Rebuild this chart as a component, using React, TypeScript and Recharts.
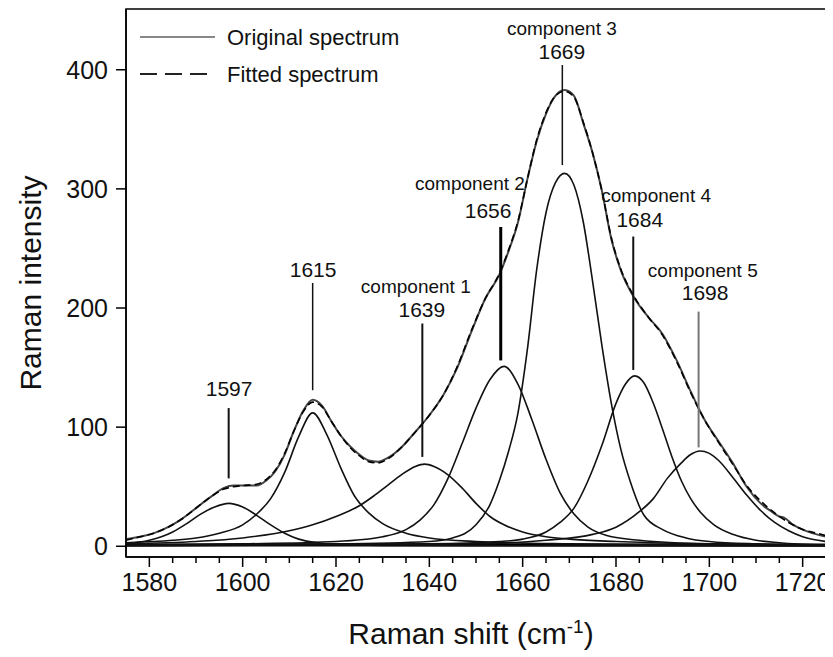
import React from 'react';
import { LineChart, Line, XAxis, YAxis, ReferenceLine, ReferenceDot, ReferenceArea, Legend, Label } from 'recharts';

const FONT = '"Liberation Sans", Arial, sans-serif';

// axis ticks
const xMajorTicks = [1580, 1600, 1620, 1640, 1660, 1680, 1700, 1720];
const xAllTicks = [1580, 1585, 1590, 1595, 1600, 1605, 1610, 1615, 1620, 1625, 1630, 1635, 1640, 1645, 1650, 1655, 1660, 1665, 1670, 1675, 1680, 1685, 1690, 1695, 1700, 1705, 1710, 1715, 1720, 1725];
const yTicks = [0, 100, 200, 300, 400];

// spectra [Raman shift, intensity]
const originalSpectrum = [
  [1575, 6], [1578, 8], [1581, 11], [1584, 16], [1587, 23], [1590, 32], [1593, 41], [1596, 49], [1598, 51], [1600, 51],
  [1603, 51], [1605, 55], [1607, 63], [1609, 77], [1611, 97], [1613, 114], [1615, 123], [1617, 118], [1619, 105], [1621, 93],
  [1623, 84], [1625, 77], [1627, 72], [1629, 71], [1631, 74], [1634, 83], [1637, 96], [1640, 110], [1643, 127], [1646, 150],
  [1649, 180], [1652, 208], [1655, 228], [1657, 248], [1659, 272], [1661, 308], [1663, 340], [1665, 363], [1667, 378], [1669, 383],
  [1671, 378], [1673, 355], [1675, 330], [1677, 298], [1679, 258], [1681, 232], [1684, 208], [1687, 192], [1690, 178], [1693, 156],
  [1696, 130], [1699, 106], [1702, 88], [1705, 70], [1708, 50], [1711, 36], [1713, 30], [1715, 25], [1716, 24], [1718, 18],
  [1720, 14], [1723, 10], [1725, 8],
];
const fittedSpectrum = [
  [1575, 5], [1578, 8], [1581, 11], [1584, 16], [1587, 23], [1590, 32], [1593, 41], [1596, 48], [1598, 50], [1600, 51],
  [1603, 52], [1605, 56], [1607, 64], [1609, 78], [1611, 97], [1613, 113], [1615, 121], [1617, 117], [1619, 105], [1621, 93],
  [1623, 83], [1625, 76], [1627, 71], [1629, 70], [1631, 73], [1634, 83], [1637, 96], [1640, 110], [1643, 127], [1646, 151],
  [1649, 181], [1652, 208], [1655, 229], [1657, 249], [1659, 273], [1661, 308], [1663, 341], [1665, 364], [1667, 378], [1669, 382],
  [1671, 377], [1673, 356], [1675, 330], [1677, 298], [1679, 259], [1681, 233], [1684, 209], [1687, 192], [1690, 177], [1693, 155],
  [1696, 129], [1699, 106], [1702, 87], [1705, 69], [1708, 51], [1711, 38], [1714, 28], [1717, 20], [1720, 14], [1723, 11], [1725, 9],
];

// fitted components
const band1597 = [
  [1575, 2], [1580, 5], [1585, 12], [1588, 19], [1591, 27], [1594, 33], [1597, 36], [1600, 33], [1603, 26], [1606, 18],
  [1609, 11], [1612, 6], [1616, 3], [1620, 1.5], [1630, 0.8], [1650, 0.5], [1700, 0.3], [1725, 0.3],
];
const band1615 = [
  [1575, 3], [1585, 5], [1590, 7], [1595, 11], [1600, 18], [1603, 27], [1606, 40], [1609, 62], [1612, 92], [1615, 112],
  [1618, 94], [1621, 66], [1624, 42], [1627, 28], [1630, 19], [1635, 11], [1640, 7], [1650, 4], [1670, 2], [1700, 1], [1725, 0.5],
];
const component1 = [
  [1575, 2], [1590, 4], [1600, 7], [1610, 13], [1615, 18], [1620, 25], [1625, 34], [1628, 42], [1631, 51], [1634, 60],
  [1637, 67], [1639, 69], [1641, 67], [1644, 60], [1647, 49], [1650, 36], [1653, 25], [1656, 18], [1660, 12], [1665, 8],
  [1670, 6], [1680, 4], [1700, 2], [1725, 1],
];
const component2 = [
  [1575, 1], [1600, 2], [1620, 4], [1630, 8], [1635, 14], [1638, 22], [1641, 35], [1644, 57], [1647, 86], [1650, 116],
  [1653, 140], [1656, 151], [1659, 136], [1662, 106], [1665, 73], [1668, 45], [1671, 27], [1674, 16], [1678, 9], [1685, 5],
  [1700, 2], [1725, 1],
];
const component3 = [
  [1575, 1], [1620, 2], [1640, 4], [1645, 7], [1650, 18], [1653, 35], [1655, 55], [1657, 80], [1659, 112], [1661, 165],
  [1663, 232], [1665, 280], [1667, 305], [1669, 313], [1671, 303], [1673, 272], [1675, 222], [1677, 168], [1679, 120], [1681, 82],
  [1683, 55], [1686, 26], [1690, 14], [1695, 7], [1700, 4], [1710, 2], [1725, 1],
];
const component4 = [
  [1575, 0.5], [1640, 2], [1655, 4], [1660, 6], [1665, 12], [1668, 20], [1671, 32], [1674, 55], [1677, 85], [1680, 120],
  [1682, 136], [1684, 143], [1686, 137], [1688, 120], [1690, 98], [1692, 75], [1694, 55], [1696, 40], [1698, 29], [1701, 18],
  [1705, 10], [1710, 5], [1715, 3], [1725, 1],
];
const component5 = [
  [1575, 0.5], [1650, 2], [1665, 5], [1675, 10], [1680, 16], [1685, 29], [1688, 40], [1691, 57], [1694, 70], [1696, 77],
  [1698, 80], [1700, 78], [1702, 72], [1705, 58], [1708, 43], [1711, 30], [1714, 20], [1717, 13], [1720, 8], [1725, 4],
];
const baseline = [[1575, 1], [1725, 1]];

// annotations
const peakLineX = [1597, 1615, 1638.5, 1655.3, 1668.5, 1683.7, 1697.7];
const peakLineTop = [116, 221, 187, 268, 404, 260, 197];
const peakLineBottom = [57, 131, 75, 156, 320, 148, 83];
const peakLineColor = ['#111', '#111', '#111', '#000', '#111', '#111', '#777'];
const peakLineWidth = [2, 1.5, 2, 3, 1.5, 2, 2];
const peakLabels = ['1597', '1615', '1639', '1656', '1669', '1684', '1698'];
const peakLabelX = [1597.1, 1615.1, 1638.4, 1652.6, 1668.4, 1685.1, 1699.1];
const peakLabelY = [132, 232, 199, 282, 415, 274, 213];
const compNames = ['component 1', 'component 2', 'component 3', 'component 4', 'component 5'];
const compNameX = [1637.1, 1648.7, 1668.4, 1688.6, 1698.6];
const compNameY = [218, 305, 435, 295, 232];

const legendItems = ['Original spectrum', 'Fitted spectrum'];

const pts = (arr: number[][]) => arr.map(([x, y]) => ({ x, y }));

const XTick = (props: any) => {
  const { x, y, payload } = props;
  const major = xMajorTicks.includes(payload.value);
  return (
    <g>
      <line x1={x} x2={x} y1={y} y2={y + (major ? 10 : 6)} stroke="#000" strokeWidth={1.5} />
      {major && (
        <text x={x} y={y + 16} dy="0.71em" textAnchor="middle" fontSize={25} fill="#111" fontFamily={FONT}>
          {payload.value}
        </text>
      )}
    </g>
  );
};

const XTitle = (props: any) => {
  const vb = props.viewBox;
  const cx = vb.x + vb.width / 2 - 5;
  return (
    <text x={cx} y={vb.y + 87} textAnchor="middle" fontSize={30} fill="#111" fontFamily={FONT}>
      Raman shift (cm<tspan dy={-11} fontSize={19}>-1</tspan><tspan dy={11}>)</tspan>
    </text>
  );
};

const YTitle = (props: any) => {
  const vb = props.viewBox;
  const cx = 22;
  const cy = vb.y + vb.height / 2;
  return (
    <text x={cx} y={cy} transform={`rotate(-90, ${cx}, ${cy})`} textAnchor="middle" dominantBaseline="central" fontSize={30} fill="#111" fontFamily={FONT}>
      Raman intensity
    </text>
  );
};

const LegendBox = () => (
  <svg width={320} height={80}>
    <line x1={14} x2={89} y1={17} y2={17} stroke="#888" strokeWidth={2} />
    <text x={101} y={17} dominantBaseline="central" fontSize={22} fill="#111" fontFamily={FONT}>{legendItems[0]}</text>
    <line x1={14} x2={89} y1={54} y2={54} stroke="#222" strokeWidth={2} strokeDasharray="17 8" />
    <text x={101} y={54} dominantBaseline="central" fontSize={22} fill="#111" fontFamily={FONT}>{legendItems[1]}</text>
  </svg>
);

const components = [band1597, band1615, component1, component2, component3, component4, component5];

export default function App() {
  return (
    <div style={{ width: 825, height: 649, fontFamily: FONT }}>
      <LineChart width={825} height={649} margin={{ top: 1, right: 7, left: 0, bottom: 0 }}>
        <XAxis
          type="number"
          dataKey="x"
          domain={[1575, 1725]}
          ticks={xAllTicks}
          allowDataOverflow
          height={100}
          tickSize={0}
          tickMargin={0}
          tickLine={false}
          tick={<XTick />}
          interval={0}
          axisLine={{ stroke: '#000', strokeWidth: 1.5 }}
        >
          <Label content={<XTitle />} />
        </XAxis>
        <YAxis
          type="number"
          domain={[-9, 451]}
          ticks={yTicks}
          allowDataOverflow
          width={118}
          tickSize={10}
          tickMargin={8}
          tick={{ fontSize: 25, fill: '#111', fontFamily: FONT }}
          tickLine={{ stroke: '#000', strokeWidth: 1.5 }}
          axisLine={{ stroke: '#000', strokeWidth: 1.5 }}
        >
          <Label content={<YTitle />} />
        </YAxis>
        <ReferenceArea x1={1575} x2={1725} y1={-9} y2={451} fill="none" stroke="#000" strokeWidth={1.5} fillOpacity={0} />
        <Legend layout="vertical" align="center" verticalAlign="middle" content={<LegendBox />} wrapperStyle={{ top: 12, left: 118, width: 320, height: 80 }} />
        <Line data={pts(baseline)} dataKey="y" type="linear" stroke="#000" strokeWidth={3} dot={false} isAnimationActive={false} legendType="none" />
        {components.map((c, i) => (
          <Line key={i} data={pts(c)} dataKey="y" type="monotone" stroke="#111" strokeWidth={1.6} dot={false} isAnimationActive={false} legendType="none" />
        ))}
        <Line data={pts(originalSpectrum)} dataKey="y" name="Original spectrum" type="monotone" stroke="#444" strokeWidth={2} dot={false} isAnimationActive={false} />
        <Line data={pts(fittedSpectrum)} dataKey="y" name="Fitted spectrum" type="monotone" stroke="#000" strokeWidth={1.6} strokeDasharray="7 4" dot={false} isAnimationActive={false} />
        {peakLineX.map((x, i) => (
          <ReferenceLine key={'pl' + i} segment={[{ x, y: peakLineBottom[i] }, { x, y: peakLineTop[i] }]} stroke={peakLineColor[i]} strokeWidth={peakLineWidth[i]} />
        ))}
        {peakLabels.map((t, i) => (
          <ReferenceDot key={'lb' + i} x={peakLabelX[i]} y={peakLabelY[i]} r={0} fill="none" stroke="none"
            label={{ value: t, position: 'center', fontSize: 21, fill: '#111', fontFamily: FONT }} />
        ))}
        {compNames.map((t, i) => (
          <ReferenceDot key={'cn' + i} x={compNameX[i]} y={compNameY[i]} r={0} fill="none" stroke="none"
            label={{ value: t, position: 'center', fontSize: 19, fill: '#111', fontFamily: FONT }} />
        ))}
      </LineChart>
    </div>
  );
}
